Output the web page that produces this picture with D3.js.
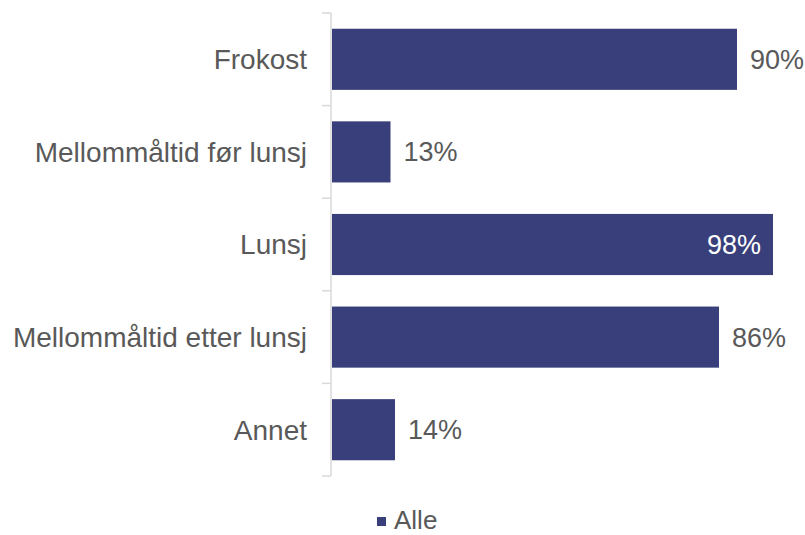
<!DOCTYPE html>
<html>
<head>
<meta charset="utf-8">
<script src="https://cdn.jsdelivr.net/npm/d3@7"></script>
<style>
  body { margin: 0; background: #fff; }
  text { font-family: "Liberation Sans", Arial, sans-serif; }
</style>
</head>
<body>
<div id="chart"></div>
<script>
var categories = ["Frokost", "Mellommåltid før lunsj", "Lunsj", "Mellommåltid etter lunsj", "Annet"];
var values = [90, 13, 98, 86, 14];
var seriesName = "Alle";

var w = 805, h = 535;
var barColor = "#383f7a";
var textColor = "#595959";
var gridColor = "#d9d9d9";

var svg = d3.select("#chart").append("svg")
    .attr("width", w)
    .attr("height", h);

var x = d3.scaleLinear()
    .domain([0, 100])
    .range([332, 782]);

var y = d3.scaleBand()
    .domain(categories)
    .range([13, 476])
    .paddingInner(0.34)
    .paddingOuter(0.17);

// axis line with ticks at category boundaries
var edges = d3.range(categories.length + 1).map(i => 13 + i * (476 - 13) / categories.length);

svg.append("line")
    .attr("x1", 331).attr("x2", 331)
    .attr("y1", 13).attr("y2", 476)
    .attr("stroke", gridColor).attr("stroke-width", 1.5);

svg.selectAll(".tick")
    .data(edges)
    .enter().append("line")
    .attr("x1", 322).attr("x2", 331)
    .attr("y1", d => d).attr("y2", d => d)
    .attr("stroke", gridColor).attr("stroke-width", 1.5);

// category labels
svg.selectAll(".cat")
    .data(categories)
    .enter().append("text")
    .attr("x", 307)
    .attr("y", d => y(d) + y.bandwidth() / 2)
    .attr("dy", "0.35em")
    .attr("text-anchor", "end")
    .attr("font-size", 28)
    .attr("fill", textColor)
    .text(d => d);

// bars
svg.selectAll(".bar")
    .data(values)
    .enter().append("rect")
    .attr("x", x(0))
    .attr("y", (d, i) => y(categories[i]))
    .attr("width", d => x(d) - x(0))
    .attr("height", y.bandwidth())
    .attr("fill", barColor);

// value labels
svg.selectAll(".val")
    .data(values)
    .enter().append("text")
    .attr("x", d => d > 95 ? x(d) - 12 : x(d) + 13)
    .attr("y", (d, i) => y(categories[i]) + y.bandwidth() / 2)
    .attr("dy", "0.35em")
    .attr("text-anchor", d => d > 95 ? "end" : "start")
    .attr("font-size", 27)
    .attr("fill", d => d > 95 ? "#ffffff" : textColor)
    .text(d => d + "%");

// legend
svg.append("rect")
    .attr("x", 377).attr("y", 517)
    .attr("width", 9).attr("height", 9)
    .attr("fill", barColor);
svg.append("text")
    .attr("x", 394).attr("y", 529)
    .attr("font-size", 26)
    .attr("fill", textColor)
    .text(seriesName);
</script>
</body>
</html>
